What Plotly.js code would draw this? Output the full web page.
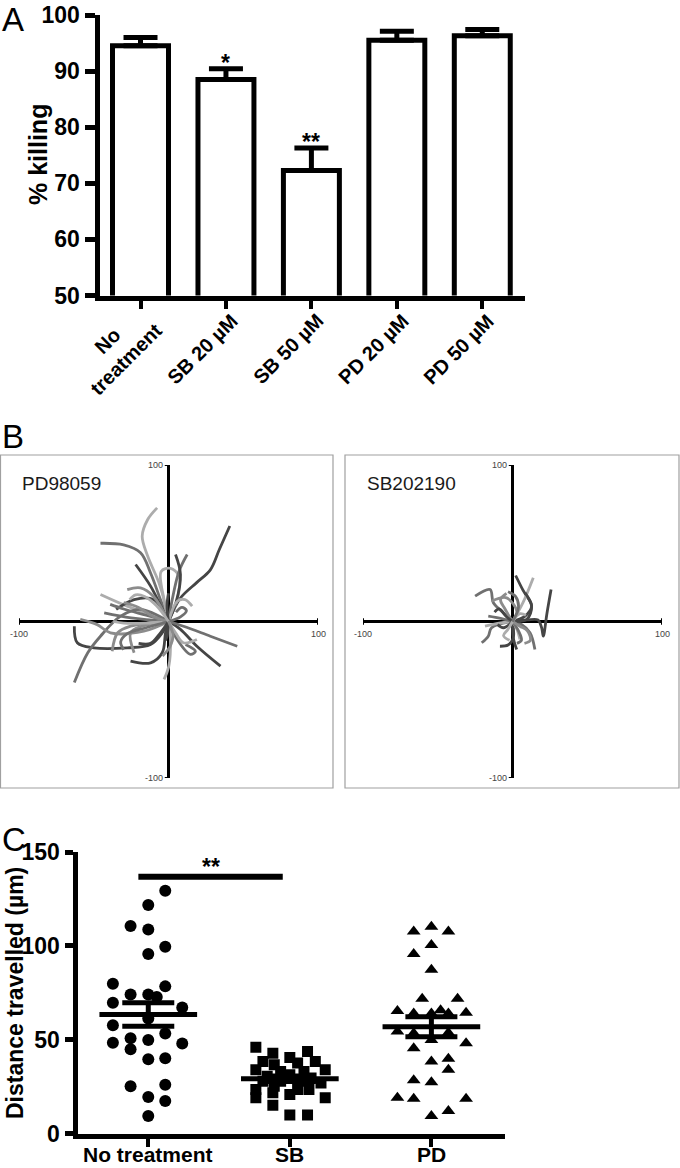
<!DOCTYPE html>
<html><head><meta charset="utf-8">
<script src="https://cdn.plot.ly/plotly-3.0.1.min.js"></script>
<style>html,body{margin:0;padding:0;background:#fff}#chart{width:680px;height:1168px}</style>
</head><body><div id="chart"></div>
<script>
// ---------- Panel A data ----------
const killingCategories = ['No<br>treatment', 'SB 20 µM', 'SB 50 µM', 'PD 20 µM', 'PD 50 µM'];
const killingMean = [94.5, 88.5, 72.3, 95.5, 96.3];
const killingSem = [1.5, 1.9, 4.0, 1.6, 1.1];
const killingStars = ['', '*', '**', '', ''];

// ---------- Panel B data (cell tracks, µm) ----------
const trackPanels = ['PD98059', 'SB202190'];
const pdTrackX = [
  [0, 8, 19, 28, 34, 41],
  [0, -2, -6.5, -14, -17.6, -14, -7.6],
  [0, -5.4, -12, -18.7, -30, -45.5],
  [0, -4, -12, -22],
  [0, -3, -4.9, 1.3, 7, 5.8, 1],
  [0, 2.5, 7, 12.5],
  [0, 5, 8, 4.7],
  [0, 6, 11, 15.8],
  [0, -12, -27.6, -45.5],
  [0, -25, -43],
  [0, -10, -23, -35],
  [0, -10, -18.7, -27.6],
  [0, -4, -12, -27.6, -50, -61, -63],
  [0, -18.7, -32, -45.5, -54, -63],
  [0, -16.5, -38.8, -47.7, -59],
  [0, -25.4, -34, -37.7],
  [0, -18, -25.4, -23],
  [0, -2, -4.2, -12, -25.4],
  [0, 1.3, 0.2, -3],
  [0, 8, 19, 34.8],
  [0, 10, 28, 46],
  [0, 5.8, 14.7, 18, 11.4],
  [0, 4.7, 10, 19],
  [0, -15, -30, -37],
  [0, -1, -2],
  [0, -15, -30, -39],
  [0, -10, -20, -30],
  [0, -15, -28, -32, -30],
  [0, -6, -12, -20],
  [0, -1, 0],
  [0, 8, 12, 9, 5],
  [0, -8, -16, -22, -26],
  [0, 3, 1, -4]
];
const pdTrackY = [
  [0, 15, 25, 33, 46, 61],
  [0, 10, 25, 42, 54.5, 65, 72.6],
  [0, 14, 31, 44, 49, 50],
  [0, 7.7, 22.6, 36.4],
  [0, 14, 32, 34, 29, 14, 3],
  [0, 14, 32, 42.8],
  [0, 12, 30, 42.8],
  [0, 13, 14, 9.8],
  [0, 4.5, 9.8, 17.3],
  [0, 2.3, 5.5],
  [0, 14, 14, 7.7],
  [0, 16, 21.5, 20.4],
  [0, -7, -14.7, -16.8, -16.8, -13.6, -3],
  [0, 7.7, 3.4, -9.4, -20, -39],
  [0, -6.2, -7.2, -2, 1.3],
  [0, -3, -7.2, -19],
  [0, -3, -7.2, -20],
  [0, -7.2, -20, -26.4, -25.3],
  [0, -11.5, -28.5, -37],
  [0, -5, -15.8, -28.5],
  [0, -3, -9.4, -15.8],
  [0, -11.5, -21, -19, -14.7],
  [0, -7.2, -13.6, -11.5],
  [0, -1, -1, 0],
  [0, -9.4, -12],
  [0, 4, 8, 10.9],
  [0, 3, 9, 12],
  [0, -4, -8, -13, -18],
  [0, -8, -14, -14],
  [0, 10, 18],
  [0, 3, 7, 9, 6],
  [0, 10, 16, 17, 14],
  [0, -9, -16, -22]
];
const sbTrackX = [
  [0, 10, 17, 19.5, 20.6, 23, 25.8],
  [0, 8.4, 12.8, 7, 2.1],
  [0, 7, 13.9],
  [0, -6, -12.8, -15, -25],
  [0, -14, -16.2, -20.6],
  [0, 0.5, -3, -8.4],
  [0, 0.5, 2.8],
  [0, 6, 11.7, 15],
  [0, 3, -3.9, -14],
  [0, -9, -18.4],
  [0, -8, -16.2],
  [0, 9.5, 12.8, 8.4],
  [0, 3, 5],
  [0, -5, -8, -4],
  [0, 5, 9],
  [0, -6, -10],
  [0, 4, 6, 3],
  [0, -4, -9, -12],
  [0, 5, 10, 12, 8],
  [0, -3, -6, -2],
  [0, 4, 2, -3]
];
const sbTrackY = [
  [0, 1, 1, -4, -9.4, 5, 20.4],
  [0, 3.4, 9.8, 20, 29.4],
  [0, 12, 27.9],
  [0, 5.5, 12, 20.4, 16.2],
  [0, -4, -9.4, -13.6],
  [0, -10.4, -15, -15.8],
  [0, -10.4, -17.9],
  [0, -1.9, -7.2, -17.9],
  [0, 6, 15.1, 13],
  [0, -1, -3],
  [0, 2, 3.4],
  [0, 1.3, 9.8, 18.3],
  [0, -5, -11.5],
  [0, 8, 14, 18],
  [0, 5, 4],
  [0, -4, -2],
  [0, -6, -12, -14],
  [0, 3, 8, 6],
  [0, -3, -6, -12, -14],
  [0, -5, -9, -12],
  [0, 9, 16, 19]
];
const trackAxisLimits = [-100, 100];

// ---------- Panel C data ----------
const distanceGroups = ['No treatment', 'SB', 'PD'];
const noTreatmentDistance = [129.4, 121.7, 110.6, 108.7, 99.5, 95.6, 79.8, 78.4, 74.1, 74.1, 72.7, 69.7, 67.1, 61.3,
  57.7, 53.3, 50.7, 49.8, 48.4, 48.0, 44.9, 40.1, 39.6, 26.0, 25.2, 19.5, 17.3, 9.3];
const noTreatmentJitter = [0.12, 0, -0.125, 0, 0.12, 0, -0.25, 0.12, -0.125, 0, 0.06, -0.25, 0.24, 0,
  -0.25, 0.12, -0.125, 0, -0.25, 0.24, -0.125, 0.12, 0, 0.12, -0.125, 0, 0.12, 0];
const sbDistance = [45.9, 42.8, 43.7, 40.5, 38.4, 38.4, 34.0, 36.6, 37.5, 34.0, 33.1, 33.1, 30.5, 31.3, 29.6,
  27.8, 27.8, 27.8, 26.9, 25.2, 23.4, 23.4, 23.4, 21.7, 20.8, 19.0, 19.0, 15.1, 9.9, 9.9];
const sbJitter = [-0.24, -0.12, 0.125, 0, -0.19, 0.18, -0.24, -0.11, 0.055, 0.25, -0.065, 0.1, -0.16, 0, 0.15,
  -0.19, -0.065, 0.08, 0.22, -0.11, -0.24, 0.055, 0.135, -0.12, 0, -0.24, 0.25, -0.12, 0, 0.125];
const pdDistance = [107.6, 110.2, 107.6, 100.5, 95.6, 87.3, 71.8, 71.8, 65.3, 63.9, 63.9, 65.7, 63.9, 64.4,
  54.3, 53.4, 49.8, 53.7, 45.4, 48.1, 38.4, 39.8, 34.0, 28.4, 27.3, 19.0, 18.5, 18.5, 9.3, 12.0];
const pdJitter = [-0.125, 0, 0.12, 0, -0.125, 0, -0.065, 0.185, -0.24, -0.125, 0, 0.065, 0.12, 0.245,
  -0.24, -0.125, 0, 0.12, -0.125, 0.245, 0, 0.12, 0.12, -0.125, 0, -0.24, -0.125, 0.245, 0, 0.12];
const groupMean = [63.4, 29.2, 56.9];
const groupSem = [6.3, 1.5, 5.3];
const significanceLabel = '**';
const significanceLevel = 136.8;
const significancePair = [0, 1];

// ---------- styling / geometry ----------
const W = 680, H = 1168;
const FONT = 'Arial, "Liberation Sans", Helvetica, sans-serif';
const px = v => v / W;
const py = v => 1 - v / H;
const DARK = '#454545', MID = '#707070', GRAY = '#8c8c8c', LIGHT = '#acacac';
const pdShades = [DARK, LIGHT, MID, DARK, LIGHT, MID, DARK, LIGHT, LIGHT, MID, DARK, GRAY, DARK, MID,
  GRAY, GRAY, GRAY, DARK, LIGHT, DARK, MID, MID, LIGHT, LIGHT, DARK, MID, GRAY, MID, DARK, DARK, MID, LIGHT, GRAY];
const sbShades = [DARK, DARK, LIGHT, MID, MID, DARK, DARK, MID, GRAY, LIGHT, MID, DARK, LIGHT, GRAY, LIGHT, DARK, MID,
  DARK, GRAY, LIGHT, MID];

const traces = [];

// Panel A bars
const aIdx = killingMean.map((_, i) => i);
traces.push({
  type: 'bar', x: aIdx, y: killingMean, xaxis: 'x', yaxis: 'y', width: 0.655,
  marker: {color: '#ffffff', line: {color: '#000', width: 5}},
  error_y: {type: 'data', symmetric: false, array: killingSem, arrayminus: killingSem.map(() => 0),
    color: '#000', thickness: 5, width: 17},
  hoverinfo: 'skip'
});

// Panel B tracks
pdTrackX.forEach((xs, i) => traces.push({
  type: 'scatter', mode: 'lines', x: xs, y: pdTrackY[i], xaxis: 'x2', yaxis: 'y2',
  line: {color: pdShades[i % pdShades.length], width: 2.8, shape: 'spline', smoothing: 1}, hoverinfo: 'skip'
}));
sbTrackX.forEach((xs, i) => traces.push({
  type: 'scatter', mode: 'lines', x: xs, y: sbTrackY[i], xaxis: 'x3', yaxis: 'y3',
  line: {color: sbShades[i % sbShades.length], width: 2.8, shape: 'spline', smoothing: 1}, hoverinfo: 'skip'
}));

// Panel C points
const groupsC = [
  {vals: noTreatmentDistance, jit: noTreatmentJitter, sym: 'circle', size: 12},
  {vals: sbDistance, jit: sbJitter, sym: 'square', size: 11},
  {vals: pdDistance, jit: pdJitter, sym: 'triangle-up', size: 12}
];
groupsC.forEach((g, gi) => traces.push({
  type: 'scatter', mode: 'markers', x: g.vals.map((v, k) => gi + g.jit[k]), y: g.vals,
  xaxis: 'x4', yaxis: 'y4', marker: {symbol: g.sym, size: g.size, color: '#000'}, hoverinfo: 'skip'
}));
groupMean.forEach((m, gi) => traces.push({
  type: 'scatter', mode: 'lines', x: [gi - 0.345, gi + 0.345], y: [m, m], xaxis: 'x4', yaxis: 'y4',
  line: {color: '#000', width: 5}, hoverinfo: 'skip'
}));
traces.push({
  type: 'scatter', mode: 'markers', x: groupMean.map((_, i) => i), y: groupMean, xaxis: 'x4', yaxis: 'y4',
  marker: {size: 1, color: '#000'},
  error_y: {type: 'data', array: groupSem, color: '#000', thickness: 5, width: 26}, hoverinfo: 'skip'
});

const annotations = [];
const letter = (t, y) => annotations.push({text: t, xref: 'paper', yref: 'paper', x: 0, y: py(y),
  xanchor: 'left', yanchor: 'top', showarrow: false, font: {family: FONT, size: 33, color: '#000'}});
letter('A', -1); letter('B', 416); letter('C', 819);

annotations.push({text: '% killing', xref: 'paper', yref: 'paper', x: px(38), y: py(155), textangle: -90,
  showarrow: false, xanchor: 'center', yanchor: 'middle', font: {family: FONT, size: 25, weight: 700, color: '#000'}});
annotations.push({text: 'Distance travelled (µm)', xref: 'paper', yref: 'paper', x: px(15), y: py(993), textangle: -90,
  showarrow: false, xanchor: 'center', yanchor: 'middle', font: {family: FONT, size: 23, weight: 700, color: '#000'}});

killingStars.forEach((s, i) => { if (s) annotations.push({text: s, xref: 'x', yref: 'y', x: i,
  y: killingMean[i] + killingSem[i], yanchor: 'bottom', yshift: -9, showarrow: false,
  font: {family: FONT, size: 23, weight: 700, color: '#000'}}); });

// Panel A category labels, rotated 45°, line blocks centred on the tick
const A_LABEL_SIZE = 20, A_LINE_H = 26.5;
killingCategories.forEach((t, i) => {
  const n = t.split('<br>').length;
  const h = n * A_LINE_H;
  annotations.push({text: t, xref: 'x', yref: 'paper', x: i, xshift: 8 + 0.3535 * h,
    y: py(318 - 0.3535 * h), xanchor: 'right', yanchor: 'top', textangle: -45, align: 'center',
    showarrow: false, borderpad: 0, font: {family: FONT, size: A_LABEL_SIZE, weight: 700, color: '#000'}});
});

// panel C category labels
distanceGroups.forEach((g, i) => annotations.push({text: g, xref: 'x4', yref: 'paper', x: i, y: py(1154),
  xanchor: 'center', yanchor: 'middle', showarrow: false, borderpad: 0,
  font: {family: FONT, size: 21, weight: 700, color: '#000'}}));

[['x2', 'y2', 20], ['x3', 'y3', 365]].forEach(([xa, ya, lx], k) => {
  annotations.push({text: trackPanels[k], xref: 'paper', yref: 'paper', x: px(lx), y: py(483),
    xanchor: 'left', yanchor: 'middle', showarrow: false, font: {family: FONT, size: 19, color: '#1a1a1a'}});
  const lo = trackAxisLimits[0], hi = trackAxisLimits[1];
  const f = {family: FONT, size: 9, color: '#444'};
  annotations.push({text: String(hi), xref: xa, yref: ya, x: 0, y: hi, xanchor: 'right', yanchor: 'middle', xshift: -4, showarrow: false, font: f});
  annotations.push({text: String(lo), xref: xa, yref: ya, x: 0, y: lo, xanchor: 'right', yanchor: 'middle', xshift: -4, showarrow: false, font: f});
  annotations.push({text: String(lo), xref: xa, yref: ya, x: lo, y: 0, xanchor: 'center', yanchor: 'top', yshift: -5, showarrow: false, font: f});
  annotations.push({text: String(hi), xref: xa, yref: ya, x: hi, y: 0, xanchor: 'center', yanchor: 'top', yshift: -5, showarrow: false, font: f});
});

annotations.push({text: significanceLabel, xref: 'x4', yref: 'y4', x: (significancePair[0] + significancePair[1]) / 2 - 0.06,
  y: significanceLevel, yanchor: 'bottom', yshift: -5, showarrow: false, font: {family: FONT, size: 23, weight: 700, color: '#000'}});

const shapes = [
  {type: 'rect', xref: 'paper', yref: 'paper', x0: px(0.5), x1: px(333), y0: py(788), y1: py(455), line: {color: '#a0a0a0', width: 1.2}},
  {type: 'rect', xref: 'paper', yref: 'paper', x0: px(345), x1: px(679), y0: py(788), y1: py(455), line: {color: '#a0a0a0', width: 1.2}},
  {type: 'line', xref: 'x4', yref: 'y4', x0: significancePair[0] - 0.07, x1: significancePair[1] - 0.05,
    y0: significanceLevel, y1: significanceLevel, line: {color: '#000', width: 6}}
];
[['x2', 'y2'], ['x3', 'y3']].forEach(([xa, ya]) => {
  trackAxisLimits.forEach(v => {
    shapes.push({type: 'line', xref: xa, yref: ya, x0: -2.5, x1: 0, y0: v, y1: v, line: {color: '#000', width: 2}});
    shapes.push({type: 'line', xref: xa, yref: ya, x0: v, x1: v, y0: -2, y1: 2, line: {color: '#000', width: 2}});
  });
});

const baseAx = {showgrid: false, zeroline: false, fixedrange: true};
const trackAx = (dom, anchor) => Object.assign({}, baseAx, {domain: dom, anchor: anchor, range: trackAxisLimits,
  zeroline: true, zerolinecolor: '#000', zerolinewidth: 2.5, showticklabels: false, ticks: '', showline: false});

const layout = {
  width: W, height: H, margin: {l: 0, r: 0, t: 0, b: 0},
  paper_bgcolor: '#fff', plot_bgcolor: 'rgba(0,0,0,0)', showlegend: false,
  font: {family: FONT, color: '#000'},
  bargap: 0,
  xaxis: Object.assign({}, baseAx, {domain: [px(99.5), px(525)], anchor: 'y', range: [-0.48, 4.5],
    tickvals: aIdx, showticklabels: false, ticks: 'outside', ticklen: 8, tickwidth: 4,
    tickcolor: '#000', showline: true, linewidth: 5, linecolor: '#000'}),
  yaxis: Object.assign({}, baseAx, {domain: [py(295.5), py(15)], anchor: 'x', range: [50, 100],
    tickvals: [50, 60, 70, 80, 90, 100], ticks: 'outside', ticklen: 10, tickwidth: 5, tickcolor: '#000',
    showline: true, linewidth: 5, linecolor: '#000', tickfont: {family: FONT, size: 23, weight: 700, color: '#000'}}),
  xaxis2: trackAx([px(19), px(318)], 'y2'),
  yaxis2: trackAx([py(778), py(465)], 'x2'),
  xaxis3: trackAx([px(363), px(662)], 'y3'),
  yaxis3: trackAx([py(778), py(465)], 'x3'),
  xaxis4: Object.assign({}, baseAx, {domain: [px(77.5), px(505)], anchor: 'y4', range: [-0.5, 2.52],
    tickvals: [0, 1, 2], showticklabels: false, ticks: 'outside', ticklen: 8, tickwidth: 4, tickcolor: '#000',
    showline: true, linewidth: 5, linecolor: '#000'}),
  yaxis4: Object.assign({}, baseAx, {domain: [py(1133.5), py(852)], anchor: 'x4', range: [0, 150],
    tickvals: [0, 50, 100, 150], ticks: 'outside', ticklen: 8, tickwidth: 5, tickcolor: '#000',
    showline: true, linewidth: 5, linecolor: '#000', tickfont: {family: FONT, size: 23, weight: 700, color: '#000'}}),
  annotations: annotations,
  shapes: shapes
};

Plotly.newPlot('chart', traces, layout, {staticPlot: true, displayModeBar: false});
</script></body></html>
